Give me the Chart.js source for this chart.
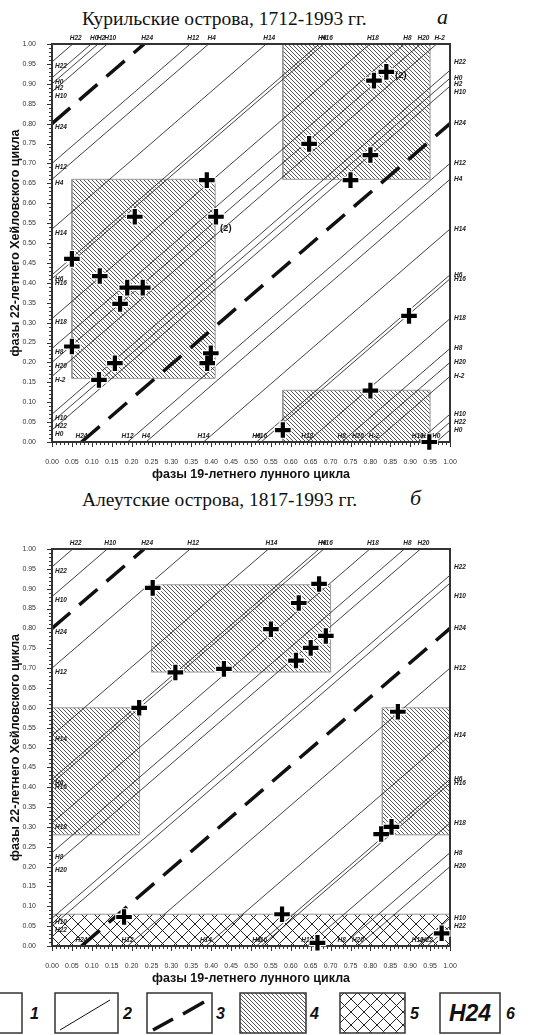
<!DOCTYPE html>
<html>
<head>
<meta charset="utf-8">
<script src="https://cdn.jsdelivr.net/npm/chart.js@4.4.1/dist/chart.umd.min.js"></script>
<style>
  body { margin: 0; background: #fff; width: 559px; height: 1035px; overflow: hidden; position: relative; }
  canvas { position: absolute; left: 0; display: block; }
  #c1 { top: 0; }
  #c2 { top: 482px; }
  .title { position: absolute; font-family: "Liberation Serif", "Times New Roman", serif; font-size: 19.5px; line-height: 1; color: #111; white-space: nowrap; }
  .letter { position: absolute; font-family: "Liberation Serif", serif; font-style: italic; font-size: 22px; line-height: 1; color: #111; }
  #legend { position: absolute; left: 0; top: 986px; }
</style>
</head>
<body>
<div class="title" style="left:82px;top:9px">Курильские острова, 1712-1993 гг.</div>
<div class="letter" style="left:437px;top:6px">а</div>
<div class="title" style="left:82px;top:490px">Алеутские острова, 1817-1993 гг.</div>
<div class="letter" style="left:410px;top:487px">б</div>
<canvas id="c1" width="559" height="482"></canvas>
<canvas id="c2" width="559" height="504"></canvas>

<svg id="legend" width="559" height="49" font-family="Liberation Sans, Arial, sans-serif">
  <defs>
    <pattern id="p4" width="4" height="4" patternUnits="userSpaceOnUse">
      <path d="M-1,-1 L5,5 M3,-1 L5,1 M-1,3 L1,5" stroke="#444" stroke-width="0.9"/>
    </pattern>
    <pattern id="p5" width="13" height="13" patternUnits="userSpaceOnUse">
      <path d="M0,0 L13,13 M13,0 L0,13" stroke="#222" stroke-width="1"/>
    </pattern>
  </defs>
  <g stroke="#333" stroke-width="1.5" fill="none">
    <rect x="-45" y="7" width="67" height="40"/>
    <rect x="55" y="7" width="63" height="40"/>
    <rect x="147" y="7" width="65" height="40"/>
    <rect x="240" y="7" width="66" height="40" fill="url(#p4)"/>
    <rect x="340" y="7" width="65" height="40" fill="url(#p5)"/>
    <rect x="440" y="7" width="60" height="40"/>
  </g>
  <line x1="60" y1="44" x2="110" y2="14" stroke="#111" stroke-width="1"/>
  <line x1="153" y1="44" x2="173" y2="33" stroke="#111" stroke-width="3.5"/>
  <line x1="183" y1="28" x2="204" y2="16" stroke="#111" stroke-width="3.5"/>
  <g font-weight="bold" font-style="italic" font-size="16" fill="#111">
    <text x="30" y="33">1</text>
    <text x="123" y="33">2</text>
    <text x="216" y="33">3</text>
    <text x="310" y="33">4</text>
    <text x="410" y="33">5</text>
    <text x="506" y="33">6</text>
    <text x="470" y="35" font-size="23" text-anchor="middle">H24</text>
  </g>
</svg>

<script>
// common slope of the phase lines (22-year phase per 19-year phase)
const slope = 0.864;

// Курильские острова, 1712-1993
const kurilNames = ['H22', 'H0', 'H2', 'H10', 'H24', 'H12', 'H4', 'H14', 'H6', 'H16', 'H18', 'H8', 'H20', 'H-2', 'H10', 'H22', 'H0'];
const kurilLeftY = [0.955, 0.915, 0.90, 0.88, 0.80, 0.70, 0.66, 0.535, 0.42, 0.41, 0.31, 0.235, 0.20, 0.165, 0.07, 0.05, 0.03];
const kurilBoxX = [[0.05, 0.41], [0.58, 0.95], [0.58, 0.95]];
const kurilBoxY = [[0.16, 0.66], [0.66, 1.00], [0.00, 0.13]];
const kurilNetX = [];
const kurilNetY = [];
const kurilPtX = [0.389, 0.208, 0.412, 0.05, 0.12, 0.189, 0.228, 0.171, 0.05, 0.158, 0.118, 0.39, 0.399, 0.58, 0.80, 0.897, 0.948, 0.646, 0.75, 0.80, 0.809, 0.84];
const kurilPtY = [0.658, 0.566, 0.566, 0.46, 0.417, 0.388, 0.388, 0.347, 0.24, 0.198, 0.156, 0.198, 0.223, 0.03, 0.129, 0.317, 0.0, 0.749, 0.658, 0.721, 0.908, 0.93];
const kurilNoteX = [0.422, 0.862];
const kurilNoteY = [0.538, 0.92];

// Алеутские острова, 1817-1993
const aleutNames = ['H22', 'H10', 'H24', 'H12', 'H14', 'H6', 'H16', 'H18', 'H8', 'H20', 'H10', 'H22'];
const aleutLeftY = [0.955, 0.88, 0.80, 0.70, 0.53, 0.42, 0.41, 0.31, 0.235, 0.20, 0.07, 0.05];
const aleutBoxX = [[0.25, 0.70], [0.00, 0.22], [0.83, 1.00]];
const aleutBoxY = [[0.69, 0.91], [0.28, 0.60], [0.28, 0.60]];
const aleutNetX = [[0.00, 1.00]];
const aleutNetY = [[0.00, 0.08]];
const aleutPtX = [0.253, 0.31, 0.432, 0.219, 0.55, 0.62, 0.671, 0.688, 0.65, 0.613, 0.869, 0.827, 0.853, 0.578, 0.667, 0.979, 0.181];
const aleutPtY = [0.902, 0.689, 0.698, 0.60, 0.798, 0.864, 0.912, 0.781, 0.751, 0.719, 0.59, 0.282, 0.30, 0.08, 0.008, 0.032, 0.073];

const dashedName = 'H24';

function makePattern(size, draw) {
  let c = document.createElement('canvas');
  c.width = size;
  c.height = size;
  let g = c.getContext('2d');
  draw(g, size);
  return g.createPattern(c, 'repeat');
}

let hatch = makePattern(4, (g, s) => {
  g.strokeStyle = '#444';
  g.lineWidth = 0.9;
  g.beginPath();
  for (let k = -s; k <= s; k += s) {
    g.moveTo(k - 1, -1);
    g.lineTo(k + s + 1, s + 1);
  }
  g.stroke();
});

let net = makePattern(13, (g, s) => {
  g.strokeStyle = '#222';
  g.lineWidth = 1;
  g.beginPath();
  g.moveTo(0, 0); g.lineTo(s, s);
  g.moveTo(s, 0); g.lineTo(0, s);
  g.stroke();
});

// line from the left edge at y0, and its continuation entering from the bottom
function segments(y0) {
  let out = [];
  let xTop = (1 - y0) / slope;
  if (xTop <= 1) {
    out.push([{x: 0, y: y0}, {x: xTop, y: 1}]);
  } else {
    out.push([{x: 0, y: y0}, {x: 1, y: y0 + slope}]);
  }
  if (y0 < slope) {
    out.push([{x: 1 - y0 / slope, y: 0}, {x: 1, y: y0}]);
  }
  return out;
}

function boxSets(xs, ys, pattern) {
  let sets = [];
  xs.forEach((bx, i) => {
    let [x0, x1] = bx;
    let [y0, y1] = ys[i];
    sets.push({
      data: [{x: x0, y: y1}, {x: x1, y: y1}],
      borderWidth: 0, pointRadius: 0,
      fill: {value: y0}, backgroundColor: pattern, order: 5
    });
    sets.push({
      data: [{x: x0, y: y0}, {x: x1, y: y0}, {x: x1, y: y1}, {x: x0, y: y1}, {x: x0, y: y0}],
      borderColor: '#999', borderWidth: 1, pointRadius: 0, fill: false, order: 4
    });
  });
  return sets;
}

function buildDatasets(d) {
  let sets = [];
  let pts = d.ptX.map((x, i) => ({x: x, y: d.ptY[i]}));
  sets.push({
    data: pts, showLine: false, pointStyle: 'cross', pointRadius: 7.8,
    pointBorderColor: '#000', pointBorderWidth: 4.2, clip: false, order: 0
  });
  sets.push({
    data: pts, showLine: false, pointStyle: 'cross', pointRadius: 8.8,
    pointBorderColor: '#fff', pointBorderWidth: 7, clip: false, order: 1, halo: true
  });
  d.leftY.forEach((y0, i) => {
    let dashed = d.names[i] === dashedName;
    segments(y0).forEach(seg => {
      sets.push({
        data: seg, borderColor: '#111', pointRadius: 0, fill: false,
        borderWidth: dashed ? 3.5 : 0.8, borderDash: dashed ? [24, 12] : [],
        order: 2
      });
    });
  });
  sets = sets.concat(boxSets(d.boxX, d.boxY, hatch));
  sets = sets.concat(boxSets(d.netX, d.netY, net));
  return sets;
}

function drawDecor(chart, d) {
  let {ctx, chartArea: a, scales: {x, y}} = chart;
  ctx.save();
  // minor / major ticks
  ctx.strokeStyle = '#333';
  ctx.lineWidth = 1;
  for (let i = 0; i <= 100; i++) {
    let len = i % 5 === 0 ? 5 : 3;
    let px = Math.round(x.getPixelForValue(i / 100)) + 0.5;
    let py = Math.round(y.getPixelForValue(i / 100)) + 0.5;
    ctx.beginPath();
    ctx.moveTo(px, a.bottom);
    ctx.lineTo(px, a.bottom + len);
    ctx.moveTo(a.left, py);
    ctx.lineTo(a.left - len, py);
    ctx.stroke();
  }
  // frame
  ctx.lineWidth = 2;
  ctx.strokeRect(a.left, a.top, a.right - a.left, a.bottom - a.top);

  // line labels
  ctx.fillStyle = '#222';
  ctx.font = 'italic bold 6.5px "Liberation Sans", Arial, sans-serif';
  ctx.textBaseline = 'middle';
  d.leftY.forEach((y0, i) => {
    let name = d.names[i];
    ctx.textAlign = 'left';
    ctx.fillText(name, a.left + 3, y.getPixelForValue(y0) + 4);
    ctx.fillText(name, a.right + 4, y.getPixelForValue(y0));
    ctx.textAlign = 'center';
    let xTop = (1 - y0) / slope;
    if (xTop <= 1) ctx.fillText(name, x.getPixelForValue(xTop) + 3, a.top - 6);
    if (y0 < slope) ctx.fillText(name, x.getPixelForValue(1 - y0 / slope), a.bottom - 6);
  });

  // notes "(2)"
  ctx.font = 'bold 9.5px "Liberation Sans", Arial, sans-serif';
  ctx.fillStyle = '#111';
  ctx.textAlign = 'left';
  d.noteX.forEach((nx, i) => {
    ctx.fillText('(2)', x.getPixelForValue(nx), y.getPixelForValue(d.noteY[i]));
  });
  ctx.restore();
}

function makeChart(canvas, d, padTop) {
  let tickFont = {family: '"Liberation Sans", Arial, sans-serif', size: 7};
  let titleFont = {family: '"Liberation Sans", Arial, sans-serif', size: 12.5, weight: 'bold'};
  return new Chart(canvas, {
    type: 'line',
    data: {datasets: buildDatasets(d)},
    options: {
      responsive: false,
      animation: false,
      events: [],
      layout: {padding: {left: 0, right: 109, top: padTop, bottom: 0}},
      plugins: {legend: {display: false}, tooltip: {enabled: false}, title: {display: false}},
      scales: {
        x: {
          type: 'linear', min: 0, max: 1,
          grid: {display: false}, border: {display: false},
          ticks: {stepSize: 0.05, autoSkip: false, maxRotation: 0, padding: 8, color: '#333', font: tickFont,
                  callback: v => v.toFixed(2)},
          title: {display: true, text: 'фазы 19-летнего лунного цикла', color: '#111', font: titleFont,
                  padding: {top: 5, bottom: 0}},
          afterFit: s => { s.height = 40; }
        },
        y: {
          type: 'linear', min: 0, max: 1,
          grid: {display: false}, border: {display: false},
          ticks: {stepSize: 0.05, autoSkip: false, padding: 8, color: '#333', font: tickFont,
                  callback: v => v.toFixed(2)},
          title: {display: true, text: 'фазы 22-летнего Хейловского цикла', color: '#111', font: titleFont,
                  padding: {top: 8, bottom: 0}},
          afterFit: s => { s.width = 52; }
        }
      }
    },
    plugins: [{
      id: 'decor',
      beforeDatasetDraw(chart, args) {
        if (chart.data.datasets[args.index].halo) drawDecor(chart, d);
      }
    }]
  });
}

makeChart(document.getElementById('c1'), {
  names: kurilNames, leftY: kurilLeftY, boxX: kurilBoxX, boxY: kurilBoxY,
  netX: kurilNetX, netY: kurilNetY, ptX: kurilPtX, ptY: kurilPtY,
  noteX: kurilNoteX, noteY: kurilNoteY
}, 44);

makeChart(document.getElementById('c2'), {
  names: aleutNames, leftY: aleutLeftY, boxX: aleutBoxX, boxY: aleutBoxY,
  netX: aleutNetX, netY: aleutNetY, ptX: aleutPtX, ptY: aleutPtY,
  noteX: [], noteY: []
}, 67);
</script>
</body>
</html>
